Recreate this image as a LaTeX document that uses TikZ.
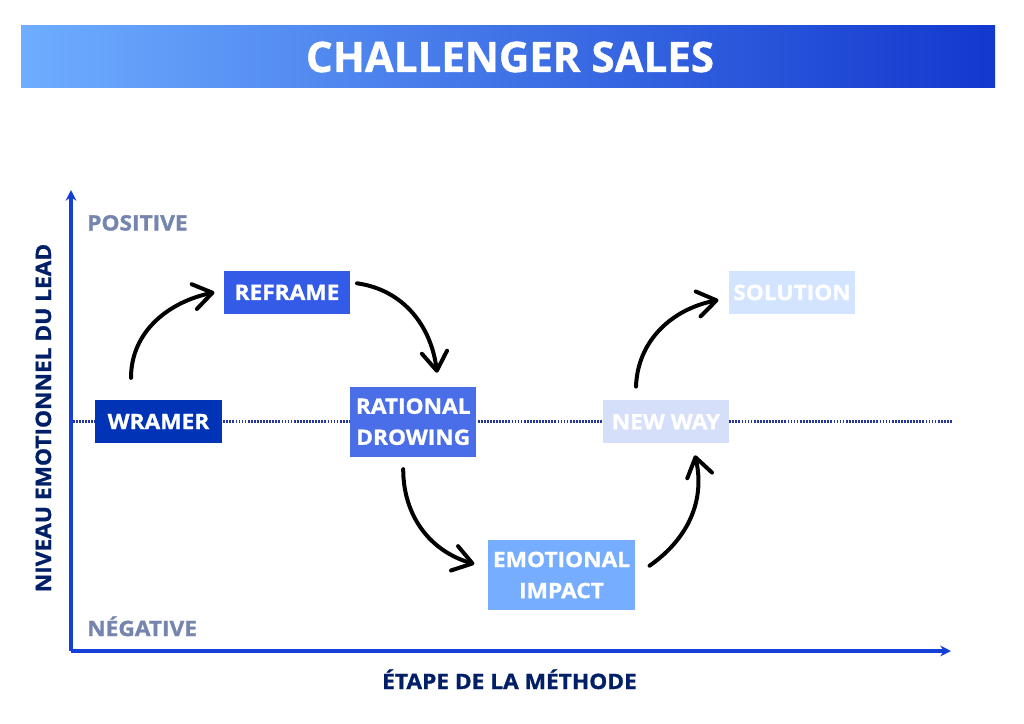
\documentclass[tikz,border=0pt]{standalone}
\usepackage{fontspec}
\setmainfont{Open Sans}[BoldFeatures={FakeBold=1}]
\newfontfamily\labelfont{Open Sans}[BoldFeatures={FakeBold=1.2,FakeStretch=1.07}]
\usetikzlibrary{arrows.meta}
\definecolor{axisblue}{HTML}{1540D8}
\definecolor{navy}{HTML}{001F66}
\definecolor{greyblue}{HTML}{7585AD}
\definecolor{dotblue}{HTML}{24389A}
\definecolor{barleft}{HTML}{6EADFF}
\definecolor{barright}{HTML}{1238CE}
\definecolor{wramerblue}{HTML}{0033B5}
\definecolor{reframeblue}{HTML}{345BE8}
\definecolor{rationalblue}{HTML}{4A6DE8}
\definecolor{emotionalblue}{HTML}{76ADFF}
\definecolor{newwayblue}{HTML}{D5DFF9}
\definecolor{solutionblue}{HTML}{D2E4FF}
\tikzset{
  stepbox/.style={text=white,font=\labelfont\fontsize{15.9}{23.3}\selectfont\bfseries,align=center,inner sep=0pt,minimum width=94.9pt,minimum height=32pt},
  flow/.style={line width=3pt,line cap=round,line join=round,-{Straight Barb[length=14pt,width=19pt,round]}},
  axis/.style={axisblue,line width=2.6pt,-{Stealth[length=8pt,width=8pt]}},
  level/.style={greyblue,font=\labelfont\fontsize{15.9}{18}\selectfont\bfseries,anchor=base west,inner sep=0pt},
  axislabel/.style={navy,font=\labelfont\fontsize{15.9}{18}\selectfont\bfseries,inner sep=0pt}
}
\begin{document}
\begin{tikzpicture}[x=.75pt,y=-.75pt]
\useasboundingbox (0,0) rectangle (1024,724);
\node[left color=barleft,right color=barright,minimum width=730.5pt,minimum height=46.5pt,inner sep=0pt] (banner) at (508,57) {};
\node[text=white,font=\fontsize{31.5}{36}\selectfont\bfseries,anchor=base,inner sep=0pt] (title) at (510,72) {CHALLENGER SALES};
\coordinate (origin) at (71,651);
\coordinate (top) at (71,190);
\coordinate (right) at (951,651);
\coordinate (midleft) at (73,421.5);
\coordinate (midright) at (952,421.5);
\draw[dotblue,line width=1.6pt,dash pattern=on 1.3pt off 1pt] (midleft) -- (midright);
\draw[axis] (origin) -- (top);
\draw[axis] (origin) -- (right);
\node[stepbox,fill=wramerblue] (wramer) at (158.5,421.5) {WRAMER};
\node[stepbox,fill=reframeblue] (reframe) at (287,292.3) {REFRAME};
\node[stepbox,fill=rationalblue,minimum height=52.8pt] (rational) at (413.2,421.7) {RATIONAL\\DROWING};
\node[stepbox,fill=emotionalblue,minimum width=110pt,minimum height=52.8pt] (emotional) at (561.5,575) {EMOTIONAL\\IMPACT};
\node[stepbox,fill=newwayblue] (newway) at (666,421.7) {NEW WAY};
\node[stepbox,fill=solutionblue] (solution) at (792,292.5) {SOLUTION};
\draw[flow] ([shift={(-27.5,-22)}]wramer.north) to[out=90,in=192] ([shift={(-9,0)}]reframe.west);
\draw[flow] ([shift={(6.5,-9)}]reframe.east) to[out=-8,in=97] ([shift={(23.8,-13.5)}]rational.north);
\draw[flow] ([shift={(-10,12)}]rational.south) to[out=-90,in=164] ([shift={(-13.5,-11)}]emotional.west);
\draw[flow] ([shift={(14.5,-9.3)}]emotional.east) to[out=35,in=-77] ([shift={(29,12)}]newway.south);
\draw[flow] ([shift={(-30,-13.5)}]newway.north) to[out=88,in=191] ([shift={(-10,7.5)}]solution.west);
\node[level] (positive) at (87,230.5) {POSITIVE};
\node[level] (negative) at (87,636) {NÉGATIVE};
\node[axislabel,anchor=base] (xlabel) at (509.5,689) {ÉTAPE DE LA MÉTHODE};
\node[axislabel,rotate=90,anchor=base] (ylabel) at (51,418) {NIVEAU EMOTIONNEL DU LEAD};
\end{tikzpicture}
\end{document}
